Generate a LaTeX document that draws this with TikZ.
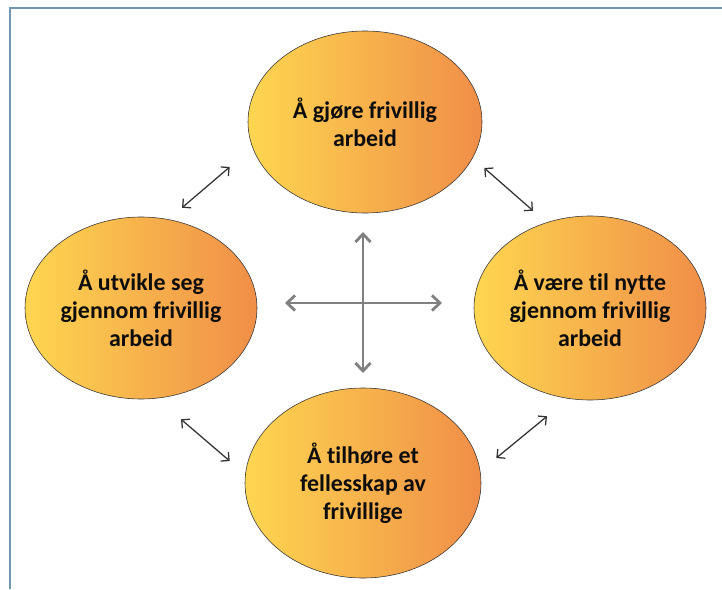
\documentclass[tikz,border=0pt]{standalone}
\usepackage{fontspec}
\setmainfont{Carlito}[Ligatures=NoCommon]
\usepackage{tikz}
\usetikzlibrary {positioning}
\usetikzlibrary{arrows.meta, shapes.geometric}

\definecolor{bubbleyellow}{RGB}{254,214,80}
\definecolor{bubbleorange}{RGB}{240,142,72}
\definecolor{framecolor}{RGB}{112,150,178}

\begin{document}
\begin{tikzpicture}[bubble/.style={ellipse,
 draw=black!80,
 thin,
 inner sep=0pt,
 left color=bubbleyellow,
 right color=bubbleorange,
 align=center,
 text=black!95,
 font=\fontsize{17}{20}\selectfont\bfseries},
 link/.style={{Straight Barb[length=1.5mm,width=3mm]}-{Straight Barb[length=1.5mm,width=3mm]},
 line width=0.9pt, draw=black!80},
 cross/.style={{Straight Barb[length=2mm,width=3.8mm]}-{Straight Barb[length=2mm,width=3.8mm]},
 line width=2pt, draw=black!50}]
 \useasboundingbox (0,0) rectangle (18.05,-14.725);

 % frame
 \draw[framecolor, line width=1pt] (0.25,-14.725) -- (0.25,-0.2) -- (18.05,-0.2);

 \node[bubble,
 minimum width = 5.85cm,
 minimum height = 4.55cm] (A) at (9.125,-3.05) {Å gjøre frivillig\\arbeid};
 \node[bubble,
 minimum width = 5.8cm,
 minimum height = 4.55cm] (B) at (3.525,-7.7) {Å utvikle seg\\gjennom frivillig\\arbeid};
 \node[bubble,
 minimum width = 5.8cm,
 minimum height = 4.6cm] (C) at (14.75,-7.7) {Å være til nytte\\gjennom frivillig\\arbeid};
 \node[bubble,
 minimum width = 5.9cm,
 minimum height = 4.75cm] (D) at (9.075,-12.075) {Å tilhøre et\\fellesskap av\\frivillige};

 \draw [link] ([xshift=1.025cm,yshift=0.225cm]B.north) -- ([xshift=-0.45cm,yshift=-1.125cm]A.west);
 \draw [link] ([xshift=0.05cm,yshift=-1.15cm]A.east) -- ([xshift=-1.425cm,yshift=0.125cm]C.north);
 \draw [link] ([xshift=0.375cm,yshift=0.625cm]D.east) -- ([xshift=-1.075cm,yshift=-0.4cm]C.south);
 \draw [link] ([xshift=1cm,yshift=-0.5cm]B.south) -- ([xshift=-0.375cm,yshift=0.55cm]D.west);

 % centre cross
 \coordinate (W) at (7.125,-7.575);
 \coordinate (E) at (11.05,-7.575);
 \coordinate (N) at (9.075,-5.8);
 \coordinate (S) at (9.075,-9.325);
 \draw [cross] (W) -- (E);
 \draw [cross] (N) -- (S);

\end{tikzpicture}
\end{document}
